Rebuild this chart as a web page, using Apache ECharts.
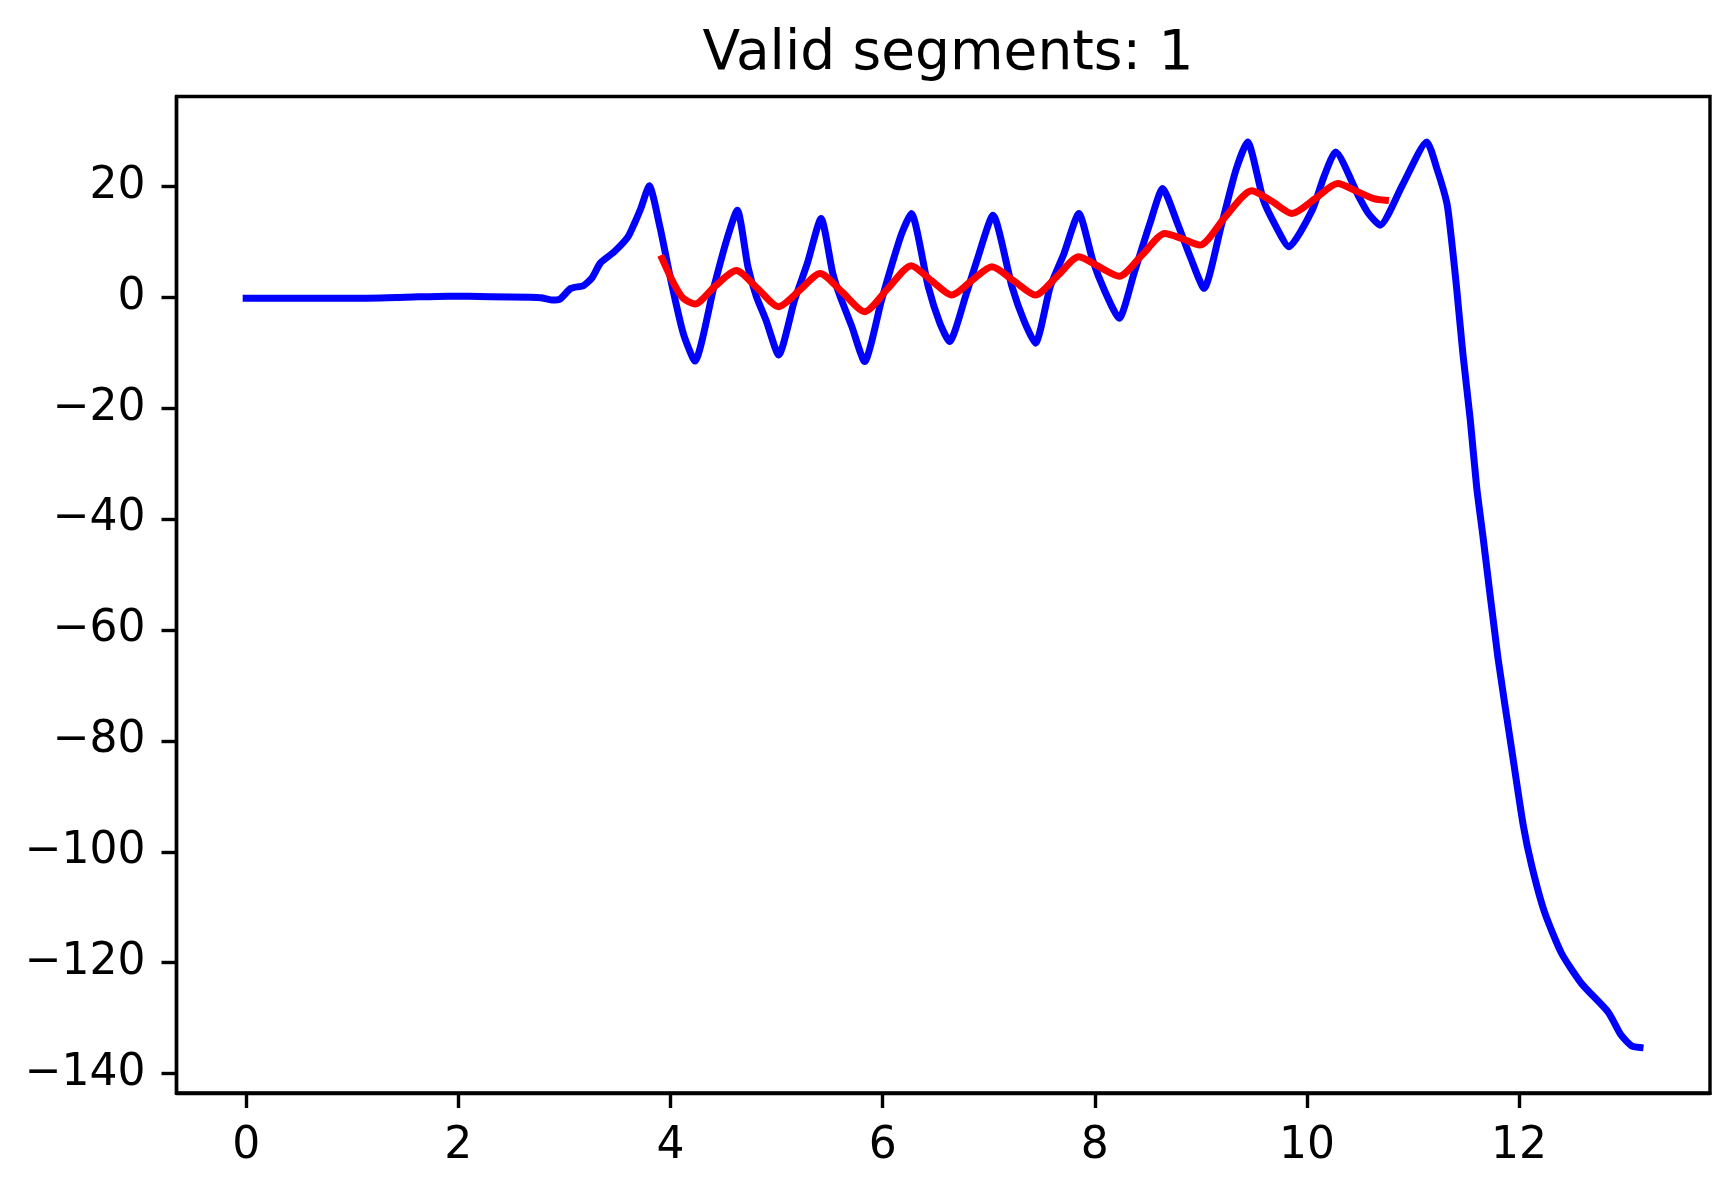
<!DOCTYPE html>
<html>
<head>
<meta charset="utf-8">
<title>Valid segments</title>
<script src="https://cdn.jsdelivr.net/npm/echarts@6/dist/echarts.min.js"></script>
<style>
    html, body { margin: 0; padding: 0; background: #fff; }
    #chart { width: 1732px; height: 1184px; }
</style>
</head>
<body>
<div id="chart"></div>
<script>
// signal (blue)
var blueX = [0, 0.5, 1.0, 1.5, 1.9, 2.3, 2.68, 2.78, 2.88, 2.96, 3.06, 3.18, 3.26, 3.34, 3.47, 3.6, 3.66, 3.72, 3.80,
    3.90, 4.01, 4.12, 4.23, 4.41, 4.52, 4.63, 4.73, 4.81, 4.90, 5.02, 5.17, 5.29, 5.42, 5.53, 5.60, 5.71, 5.83,
    5.99, 6.10, 6.18, 6.27, 6.43, 6.54, 6.63, 6.79, 6.90, 7.04, 7.22, 7.33, 7.44, 7.58, 7.71, 7.85, 7.98, 8.09,
    8.23, 8.37, 8.52, 8.64, 8.78, 8.90, 9.03, 9.19, 9.33, 9.44, 9.59, 9.71, 9.83, 10.05, 10.16, 10.27, 10.49,
    10.58, 10.69, 10.90, 11.13, 11.23, 11.32, 11.36, 11.41, 11.47, 11.54, 11.60, 11.66, 11.80, 11.93, 12.04,
    12.12, 12.24, 12.40, 12.59, 12.84, 12.96, 13.06, 13.14];
var blueY = [-0.2, -0.2, -0.2, 0.0, 0.2, 0.1, 0.0, -0.1, -0.5, -0.3, 1.6, 2.1, 3.5, 6.2, 8.2, 10.9, 13.3, 16.0, 20.1,
    12.7, 2.5, -6.5, -11.5, 1.9, 9.7, 15.7, 5.5, 0.1, -4.1, -10.4, -0.5, 6.1, 14.2, 4.3, 0.1, -5.3, -11.6,
    -0.5, 6.7, 11.5, 15.1, 1.9, -4.7, -8.0, 0.7, 7.3, 14.8, 1.9, -4.1, -8.3, 1.9, 7.9, 15.1, 6.7, 1.3,
    -3.8, 4.3, 13.3, 19.6, 13.3, 7.3, 1.6, 12.7, 22.9, 28.0, 17.5, 12.7, 9.1, 15.7, 21.7, 26.2, 18.1,
    15.1, 13.0, 20.2, 28.0, 22.9, 16.9, 10.9, 1.9, -10.1, -22.1, -34.2, -43.2, -64.9, -81.5, -95.3,
    -102.6, -110.9, -118.3, -123.8, -128.9, -133.0, -135.0, -135.3];

// smoothed segment (red)
var redX = [3.92, 4.03, 4.12, 4.23, 4.42, 4.62, 4.82, 5.02, 5.22, 5.41, 5.62, 5.83, 6.05, 6.27, 6.46, 6.65, 6.84,
    7.03, 7.24, 7.44, 7.65, 7.85, 8.04, 8.23, 8.45, 8.66, 8.82, 8.99, 9.23, 9.48, 9.67, 9.86, 10.08, 10.29,
    10.48, 10.63, 10.74];
var redY = [7.0, 2.5, -0.2, -1.2, 2.0, 4.8, 1.6, -1.7, 1.3, 4.3, 0.9, -2.6, 1.6, 5.7, 3.0, 0.4, 3.0,
    5.5, 2.9, 0.4, 3.9, 7.3, 5.5, 3.8, 7.7, 11.5, 10.6, 9.4, 14.5, 19.2, 17.3, 15.1, 17.8, 20.5,
    19.0, 17.8, 17.5];

var xTicks = [0, 2, 4, 6, 8, 10, 12];
var yTicks = [-140, -120, -100, -80, -60, -40, -20, 0, 20];

function pairs(xs, ys) {
    return xs.map(function (x, i) { return [x, ys[i]]; });
}
function minusFmt(v) {
    return String(v).replace('-', '\u2212');
}

var chart = echarts.init(document.getElementById('chart'), null, {renderer: 'canvas'});
var font = 'DejaVu Sans';
var option = {
    animation: false,
    backgroundColor: '#ffffff',
    title: {
        text: 'Valid segments: 1',
        left: 943,
        textAlign: 'center',
        top: 22,
        textStyle: {fontFamily: font, fontSize: 55, fontWeight: 'normal', color: '#000'}
    },
    grid: {
        left: 176.5,
        right: 22,
        top: 96.5,
        bottom: 91,
        show: true,
        borderColor: '#000',
        borderWidth: 3.4,
        backgroundColor: 'transparent',
        outerBoundsMode: 'none'
    },
    xAxis: {
        type: 'value',
        min: -0.657,
        max: 13.80,
        splitLine: {show: false},
        axisLine: {onZero: false, lineStyle: {color: '#000', width: 3.4}},
        axisTick: {customValues: xTicks, length: 15, lineStyle: {color: '#000', width: 3.4}},
        axisLabel: {
            customValues: xTicks,
            formatter: minusFmt,
            margin: 32,
            fontFamily: font,
            fontSize: 44,
            color: '#000'
        }
    },
    yAxis: {
        type: 'value',
        min: -143.5,
        max: 36.2,
        splitLine: {show: false},
        axisLine: {onZero: false, lineStyle: {color: '#000', width: 3.4}},
        axisTick: {customValues: yTicks, length: 15, lineStyle: {color: '#000', width: 3.4}},
        axisLabel: {
            customValues: yTicks,
            formatter: minusFmt,
            margin: 31,
            fontFamily: font,
            fontSize: 44,
            color: '#000'
        }
    },
    series: [
        {
            type: 'line',
            data: pairs(blueX, blueY),
            showSymbol: false,
            symbol: 'none',
            smooth: 0.2,
            lineStyle: {color: '#0000ff', width: 7, cap: 'square', join: 'round'},
            z: 2
        },
        {
            type: 'line',
            data: pairs(redX, redY),
            showSymbol: false,
            symbol: 'none',
            smooth: 0.25,
            lineStyle: {color: '#ff0000', width: 7, cap: 'square', join: 'round'},
            z: 3
        }
    ]
};
chart.setOption(option);
</script>
</body>
</html>
